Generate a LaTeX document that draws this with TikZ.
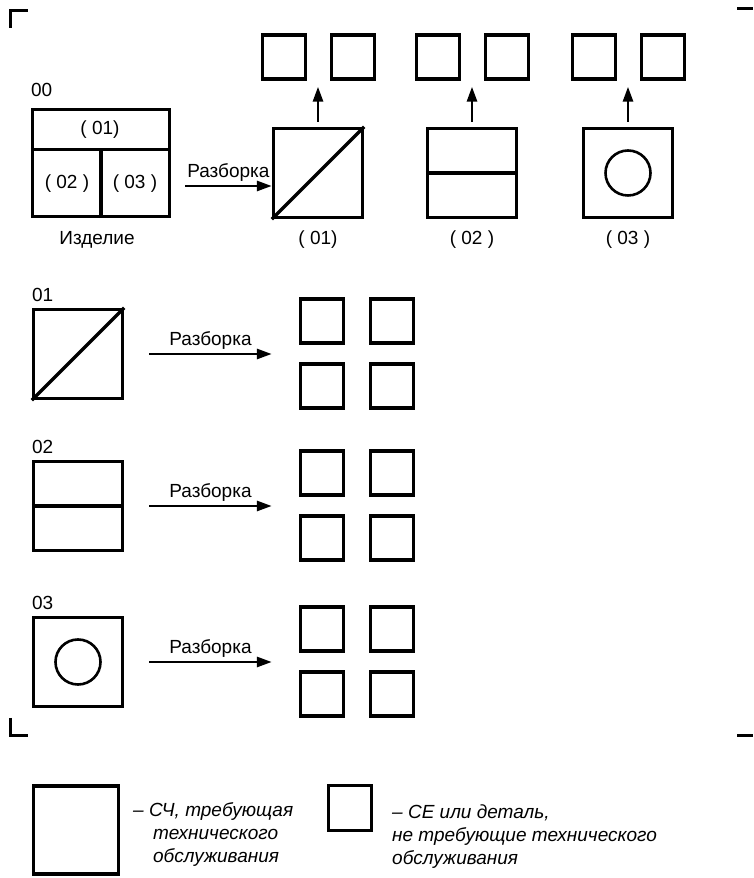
\documentclass[tikz,border=0pt]{standalone}
\usepackage{fontspec}
\setmainfont{Liberation Sans}
\usetikzlibrary{arrows.meta,positioning,calc}

\begin{document}
\begin{tikzpicture}[x=1pt,y=1pt,font=\fontsize{19}{23}\selectfont,
  bigbox/.style={draw,line width=3.4pt,minimum width=89pt,minimum height=89pt,inner sep=0pt},
  smallbox/.style={draw,line width=3.4pt,minimum width=43pt,minimum height=44pt,inner sep=0pt},
  arr/.style={-{Triangle[length=15pt,width=10pt]},line width=2.8pt},
  thin/.style={line width=3.4pt},
  cropline/.style={line width=3pt}]
  \useasboundingbox (0,0) rectangle (753,878);
  % crop marks
  \draw[cropline] (10,850) -- (10,867) -- (28,867);
  \draw[cropline] (737,869) -- (753,869);
  \draw[cropline] (10,160) -- (10,142) -- (28,142);
  \draw[cropline] (737,142) -- (753,142);
  % product 00
  \node[draw,line width=3.4pt,minimum width=137pt,minimum height=107pt,inner sep=0pt] (b00) at (101,715) {};
  \node[anchor=base west,inner sep=0pt] (n00) at ([yshift=11pt]b00.north west) {00};
  \coordinate (d00) at ($(b00.north west)!0.38!(b00.south west)$);
  \draw[thin] (d00) -- (d00 -| b00.east);
  \draw[thin] (b00.south) -- (b00.south |- d00);
  \node (t01) at (100,748) {( 01)};
  \node (t02) at (67,694) {( 02 )};
  \node (t03) at (135,694) {( 03 )};
  \node (izd) at (97,638) {Изделие};
  % first disassembly
  \foreach \n/\x/\t in {01/318/{( 01)},02/472/{( 02 )},03/628/{( 03 )}}{
    \node[bigbox] (b\n) at (\x,705) {};
    \node (l\n) at (\x,638) {\t};
    \node[smallbox] (ua\n) at (\x-34,821) {};
    \node[smallbox] (ub\n) at (\x+35,821) {};
    \draw[arr,shorten <=5pt,shorten >=6pt] (b\n.north) -- (b\n.north |- ua\n.south);}
  \draw[thin] (b01.south west) -- (b01.north east);
  \draw[thin] (b02.west) -- (b02.east);
  \draw[line width=2.6pt] (b03.center) circle (22.5);
  \coordinate (a00) at (185,692);
  \draw[arr] (a00) -- (a00 -| b01.west) node[midway,above] {Разборка};
  % second disassembly
  \foreach \n/\y in {01/524,02/372,03/216}{
    \node[bigbox] (m\n) at (78,\y) {};
    \node[anchor=base west,inner sep=0pt] (k\n) at ([yshift=6pt]m\n.north west) {\n};
    \node[smallbox] (qa\n) at (322,\y+33) {};
    \node[smallbox] (qb\n) at (392,\y+33) {};
    \node[smallbox] (qc\n) at (322,\y-32) {};
    \node[smallbox] (qd\n) at (392,\y-32) {};
    \draw[arr] ([xshift=25pt]m\n.east) -- ([xshift=-27pt]m\n.east -| qa\n.west) node[midway,above] {Разборка};}
  \draw[thin] (m01.south west) -- (m01.north east);
  \draw[thin] (m02.west) -- (m02.east);
  \draw[line width=2.6pt] (m03.center) circle (22.5);
  % legend
  \node[draw,line width=3.4pt,minimum width=85pt,minimum height=88pt,inner sep=0pt] (lg1) at (76,48) {};
  \node[anchor=north west,align=left,inner sep=0pt,font=\fontsize{19}{23}\selectfont\itshape] (lt1) at (133,76)
    {– СЧ, требующая\\\hspace*{1.05em}технического\\\hspace*{1.05em}обслуживания};
  \node[smallbox,minimum height=45pt] (lg2) at (350,70) {};
  \node[anchor=north west,align=left,inner sep=0pt,font=\fontsize{19}{23}\selectfont\itshape] (lt2) at (392,73)
    {– СЕ или деталь,\\не требующие технического\\обслуживания};
\end{tikzpicture}
\end{document}
